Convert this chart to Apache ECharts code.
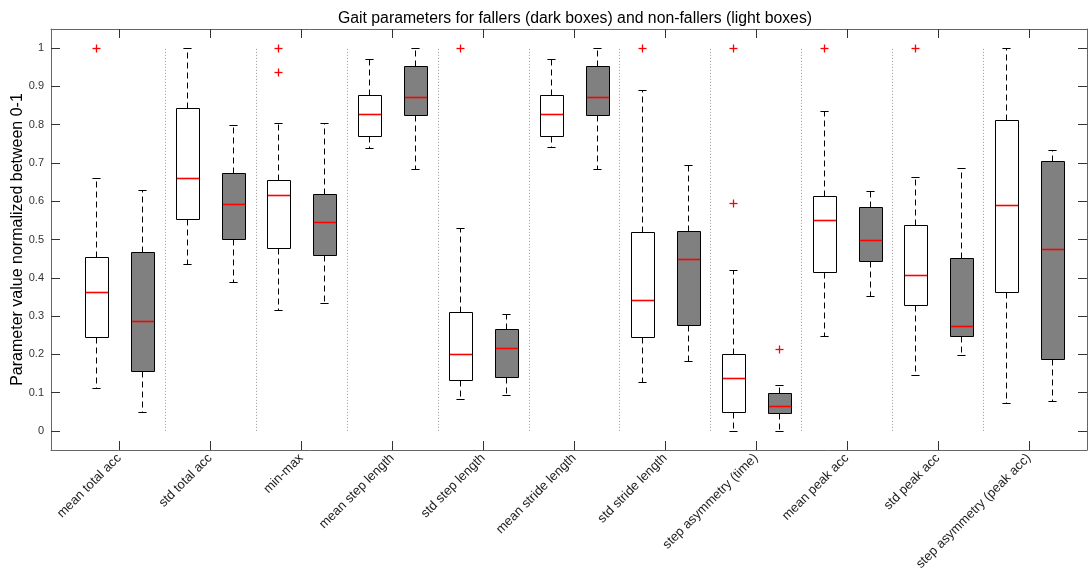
<!DOCTYPE html>
<html>
<head>
<meta charset="utf-8">
<script src="https://cdn.jsdelivr.net/npm/echarts@6/dist/echarts.min.js"></script>
<style>html,body{margin:0;padding:0;background:#fff;}#chart{width:1088px;height:572px;}</style>
</head>
<body>
<div id="chart"></div>
<script>
const titleText = 'Gait parameters for fallers (dark boxes) and non-fallers (light boxes)';
const yAxisName = 'Parameter value normalized between 0-1';
const categories = ['mean total acc','std total acc','min-max','mean step length','std step length','mean stride length','std stride length','step asymmetry (time)','mean peak acc','std peak acc','step asymmetry (peak acc)'];
const yTicks = [0,0.1,0.2,0.3,0.4,0.5,0.6,0.7,0.8,0.9,1];
// [lower whisker, Q1, median, Q3, upper whisker]
const nonFallers = [
 [0.112,0.245,0.364,0.455,0.660],
 [0.436,0.553,0.660,0.844,1.000],
 [0.315,0.477,0.615,0.655,0.805],
 [0.739,0.770,0.827,0.877,0.971],
 [0.083,0.134,0.200,0.310,0.531],
 [0.742,0.770,0.827,0.877,0.971],
 [0.128,0.245,0.342,0.520,0.891],
 [0.000,0.049,0.139,0.202,0.420],
 [0.248,0.416,0.552,0.614,0.836],
 [0.146,0.328,0.408,0.537,0.662],
 [0.072,0.362,0.589,0.812,1.000]
];
const fallers = [
 [0.049,0.157,0.286,0.468,0.630],
 [0.388,0.501,0.592,0.675,0.798],
 [0.334,0.460,0.546,0.620,0.804],
 [0.684,0.825,0.873,0.954,1.000],
 [0.093,0.140,0.217,0.266,0.305],
 [0.684,0.825,0.873,0.954,1.000],
 [0.182,0.277,0.449,0.523,0.694],
 [0.000,0.046,0.065,0.100,0.121],
 [0.352,0.444,0.499,0.585,0.627],
 [0.197,0.248,0.274,0.451,0.686],
 [0.079,0.189,0.474,0.706,0.733]
];
const nonFallerOutliers = [[1.0],[],[1.0,0.937],[],[1.0],[],[1.0],[1.0,0.596],[1.0],[1.0],[]];
const fallerOutliers = [[],[],[],[],[],[],[],[0.215],[],[],[]];

// positions: non-fallers at 2i+1, fallers at 2i+2, group centre at 2i+1.5
const nfData = nonFallers.map((d,i)=>[2*i+1].concat(d));
const fData = fallers.map((d,i)=>[2*i+2].concat(d));
const outData = [];
nonFallerOutliers.forEach((arr,i)=>arr.forEach(v=>outData.push([2*i+1,v])));
fallerOutliers.forEach((arr,i)=>arr.forEach(v=>outData.push([2*i+2,v])));
const centers = categories.map((c,i)=>2*i+1.5);
const separators = categories.slice(1).map((c,i)=>[2*i+2.5]);

function boxRender(fill){
  return function(params, api){
    const x = api.value(0);
    const lo=api.value(1), q1=api.value(2), md=api.value(3), q3=api.value(4), hi=api.value(5);
    const c = v => api.coord([x,v]);
    const hw = api.size([0.25,0])[0];
    const cw = api.size([0.09,0])[0];
    const cx = Math.round(c(md)[0]) + 0.5;
    const yLo=Math.round(c(lo)[1])+0.5, yQ1=Math.round(c(q1)[1])+0.5, yMd=Math.round(c(md)[1])+0.5, yQ3=Math.round(c(q3)[1])+0.5, yHi=Math.round(c(hi)[1])+0.5;
    const L = Math.round(cx-hw), R = Math.round(cx+hw);
    const dash = {stroke:'#000', lineWidth:1, lineDash:[6,4]};
    const solid = {stroke:'#000', lineWidth:1};
    return {type:'group', children:[
      {type:'line', shape:{x1:cx,y1:yQ3,x2:cx,y2:yHi}, style:dash},
      {type:'line', shape:{x1:cx,y1:yQ1,x2:cx,y2:yLo}, style:dash},
      {type:'line', shape:{x1:cx-cw,y1:yHi,x2:cx+cw,y2:yHi}, style:solid},
      {type:'line', shape:{x1:cx-cw,y1:yLo,x2:cx+cw,y2:yLo}, style:solid},
      {type:'rect', shape:{x:L+0.5,y:yQ3,width:R-L,height:yQ1-yQ3}, style:{fill:fill, stroke:'#000', lineWidth:1}},
      {type:'line', shape:{x1:L+1,y1:yMd,x2:R,y2:yMd}, style:{stroke:'#ff0000', lineWidth:1.6}}
    ]};
  };
}

const chart = echarts.init(document.getElementById('chart'), null, {renderer:'canvas'});
const axisCol = '#666';
const xBase = {type:'value', min:0, max:22.78, splitLine:{show:false},
  axisLine:{show:true, onZero:false, lineStyle:{color:axisCol, width:1}},
  axisTick:{show:true, inside:true, length:9, customValues:centers, lineStyle:{color:'#333'}}};
const yBase = {type:'value', min:-0.05, max:1.05, splitLine:{show:false},
  axisLine:{show:true, onZero:false, lineStyle:{color:axisCol, width:1}},
  axisTick:{show:true, inside:true, length:9, customValues:yTicks, lineStyle:{color:'#333'}}};

chart.setOption({
  animation:false,
  backgroundColor:'#fff',
  title:{text:titleText, left:570, top:6, textAlign:'center',
    textStyle:{fontFamily:'Liberation Sans, Arial, sans-serif', fontSize:15.8, fontWeight:'normal', color:'#000'}},
  grid:{left:51, right:1, top:29, bottom:122, containLabel:false, outerBoundsMode:'none'},
  xAxis:[
    Object.assign({}, xBase, {position:'bottom',
      axisLabel:{show:true, customValues:centers, rotate:45, margin:6, fontSize:13,
        fontFamily:'Liberation Sans, Arial, sans-serif', color:'#222',
        formatter:v=>categories[Math.round((v-1.5)/2)]}}),
    Object.assign({}, xBase, {position:'top', axisLabel:{show:false}})
  ],
  yAxis:[
    Object.assign({}, yBase, {position:'left', name:yAxisName, nameLocation:'middle', nameRotate:90, nameGap:25,
      nameMoveOverlap:false,
      nameTextStyle:{fontFamily:'Liberation Sans, Arial, sans-serif', fontSize:16, color:'#000'},
      axisLabel:{show:true, customValues:yTicks, margin:7, fontSize:11, color:'#333',
        fontFamily:'Liberation Sans, Arial, sans-serif',
        formatter:v=>(Math.abs(v)<1e-9?'0':(Math.abs(v-1)<1e-9?'1':v.toFixed(1)))}}),
    Object.assign({}, yBase, {position:'right', axisLabel:{show:false}})
  ],
  series:[
    {type:'custom', name:'separators', data:separators, xAxisIndex:0, yAxisIndex:0, silent:true,
      renderItem:function(params, api){
        const p0 = api.coord([api.value(0),0]);
        const p1 = api.coord([api.value(0),1]);
        const x = Math.round(p0[0])+0.5;
        return {type:'line', shape:{x1:x,y1:p0[1],x2:x,y2:p1[1]}, style:{stroke:'#999', lineWidth:1, lineDash:[1,2]}};
      }},
    {type:'custom', name:'non-fallers', data:nfData, xAxisIndex:0, yAxisIndex:0, renderItem:boxRender('#ffffff')},
    {type:'custom', name:'fallers', data:fData, xAxisIndex:0, yAxisIndex:0, renderItem:boxRender('#808080')},
    {type:'custom', name:'outliers', data:outData, xAxisIndex:0, yAxisIndex:0,
      renderItem:function(params, api){
        const p = api.coord([api.value(0), api.value(1)]);
        const x = Math.round(p[0])+0.5, y = Math.round(p[1])+0.5, a = 4;
        return {type:'group', children:[
          {type:'line', shape:{x1:x-a,y1:y,x2:x+a,y2:y}, style:{stroke:'#ff0000', lineWidth:1.3}},
          {type:'line', shape:{x1:x,y1:y-a,x2:x,y2:y+a}, style:{stroke:'#ff0000', lineWidth:1.3}}
        ]};
      }}
  ]
});
</script>
</body>
</html>
